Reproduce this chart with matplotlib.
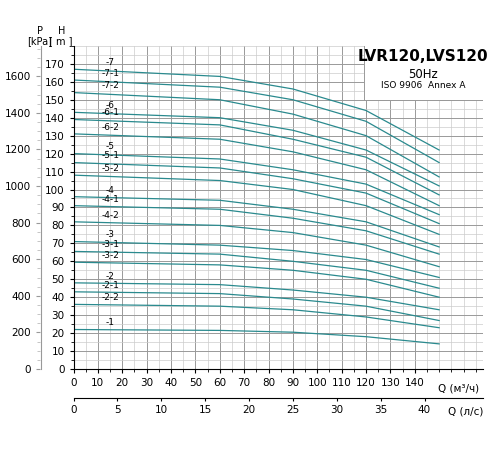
import matplotlib
matplotlib.use("Agg")
import matplotlib.pyplot as plt
from matplotlib.ticker import MultipleLocator

labels = ["-7","-7-1","-7-2","-6","-6-1","-6-2","-5","-5-1","-5-2","-4","-4-1","-4-2",
          "-3","-3-1","-3-2","-2","-2-1","-2-2","-1"]
q = [0, 60, 90, 120, 150]
heads = [
    [167,163,156,144,122],[161,157,150,138,115],[154,150,142,130,107],
    [143,140,133,122,102],[139,136,128,118,97],[131,128,121,111,91],
    [120,117,111,103,86],[115,112,106,98,81],[108,105,100,91,75],
    [96,94,89,82,68],[91,89,84,77,64],[82,80,76,69,57],
    [71,69,66,61,51],[65.5,64,60,55,45],[59.5,58,55,50,40],
    [48,47,44,40,33],[43,42,39,35,27],[36,35,33,29,23],[22,21.5,20.5,18,14]]

col = "#2a8a8e"
fig = plt.figure(figsize=(5, 4.5), dpi=100)
ax = fig.add_axes([0.147, 0.18, 0.819, 0.718])
for lab, h in zip(labels, heads):
    ax.plot(q, h, color=col, lw=0.9)
    ax.text(15, h[0] + 1.2, lab, fontsize=6.5, ha="center", va="bottom")
ax.fill_between([119, 168], 150, 180, color="white", zorder=4, lw=0)
ax.plot([119, 119, 168], [180, 150, 150], color="#999999", lw=0.7, zorder=4)
ax.set_xlim(0, 168); ax.set_ylim(0, 180)
ax.xaxis.set_minor_locator(MultipleLocator(5))
ax.yaxis.set_minor_locator(MultipleLocator(5))
ax.set_xticks(range(0, 150, 10))
ax.set_yticks(range(0, 171, 10))
ax.grid(which="major", color="#999999", lw=0.7)
ax.grid(which="minor", color="#cccccc", lw=0.5)
ax.tick_params(labelsize=7.5, length=3)
ax.tick_params(which="minor", length=2)
for s in ["top", "right"]:
    ax.spines[s].set_visible(False)
ax.text(0.99, -0.045, "Q (м³/ч)", transform=ax.transAxes, ha="right", va="top", fontsize=7.5)
ax.text(-0.03, 1.0, "H\n[ m ]", transform=ax.transAxes, ha="center", va="bottom", fontsize=7, linespacing=1.0)
ax.text(143.5, 178, "LVR120,LVS120", ha="center", va="top", fontsize=11, fontweight="bold", zorder=5)
ax.text(143.5, 167.5, "50Hz", ha="center", va="top", fontsize=8.5, zorder=5)
ax.text(143.5, 160.5, "ISO 9906  Annex A", ha="center", va="top", fontsize=6.5, zorder=5)

# l/s axis
ax2 = fig.add_axes([0.147, 0.116, 0.819, 0.001])
ax2.set_xlim(0, 168 / 3.6)
for s in ["top", "right", "left"]:
    ax2.spines[s].set_visible(False)
ax2.set_yticks([])
ax2.set_xticks(range(0, 45, 5))
ax2.tick_params(labelsize=7.5, length=2)
ax2.text(1.0, -20, "Q (л/с)", transform=ax2.transAxes, ha="right", va="top", fontsize=7.5)

# kPa axis
ax3 = fig.add_axes([0.08, 0.18, 0.001, 0.718])
ax3.set_ylim(0, 180 * 9.81)
for s in ["top", "bottom", "left"]:
    ax3.spines[s].set_visible(False)
ax3.spines["right"].set_color("#999999")
ax3.set_xticks([])
ax3.yaxis.set_minor_locator(MultipleLocator(50))
ax3.set_yticks(range(0, 1601, 200))
ax3.tick_params(labelsize=7.5, length=3, color="#999999")
ax3.tick_params(which="minor", length=2, color="#bbbbbb")
ax3.text(0, 1.0, "P\n[kPa]", transform=ax3.transAxes, ha="center", va="bottom", fontsize=7, linespacing=1.0)

fig.savefig("out.png")
